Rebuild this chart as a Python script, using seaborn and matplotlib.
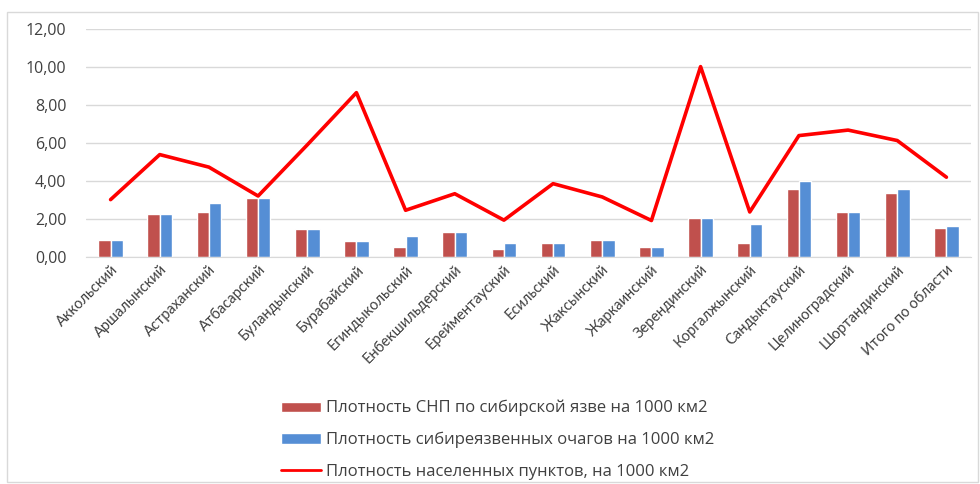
import numpy as np
import pandas as pd
import matplotlib
matplotlib.use("Agg")
import matplotlib.pyplot as plt
import seaborn as sns
from matplotlib.patches import Patch, Rectangle
from matplotlib.lines import Line2D
from matplotlib.ticker import FuncFormatter

# data
districts = ["Аккольский", "Аршалынский", "Астраханский", "Атбасарский", "Буландынский",
             "Бурабайский", "Егиндыкольский", "Енбекшильдерский", "Ерейментауский", "Есильский",
             "Жаксынский", "Жаркаинский", "Зерендинский", "Коргалжынский", "Сандыктауский",
             "Целиноградский", "Шортандинский", "Итого по области"]
snp_density = [0.89, 2.25, 2.36, 3.13, 1.50, 0.84, 0.52, 1.33, 0.44, 0.73,
               0.91, 0.52, 2.04, 0.73, 3.56, 2.36, 3.37, 1.52]
foci_density = [0.89, 2.25, 2.84, 3.13, 1.50, 0.84, 1.10, 1.33, 0.73, 0.73,
                0.91, 0.52, 2.04, 1.73, 4.01, 2.36, 3.56, 1.62]
settle_density = [3.02, 5.39, 4.73, 3.21, 5.90, 8.65, 2.46, 3.33, 1.94, 3.86,
                  3.16, 1.92, 10.02, 2.37, 6.39, 6.68, 6.13, 4.20]
labels = ["Плотность СНП по сибирской язве на 1000 км2",
          "Плотность сибиреязвенных очагов на 1000 км2",
          "Плотность населенных пунктов, на 1000 км2"]

red = "#C0504D"
blue = "#558ED5"

df = pd.DataFrame({"district": districts * 2,
                   "value": snp_density + foci_density,
                   "series": [labels[0]] * len(districts) + [labels[1]] * len(districts)})

sns.set_style("white")
plt.rcParams["font.family"] = ["Lato", "DejaVu Sans"]

fig = plt.figure(figsize=(9.8, 4.84), dpi=100)
ax = fig.add_axes([86 / 980, 1 - 257 / 484, (971 - 86) / 980, (257 - 29) / 484])

sns.barplot(data=df, x="district", y="value", hue="series", palette=[red, blue],
            width=0.5, ax=ax, legend=False, saturation=1)
sns.pointplot(x=districts, y=settle_density, color="#FF0000", markers="",
              linestyles="-", ax=ax, linewidth=2.6)

ax.set_ylim(0, 12)
ax.set_yticks(np.arange(0, 13, 2))
ax.yaxis.set_major_formatter(FuncFormatter(lambda v, p: f"{v:.2f}".replace(".", ",")))
ax.grid(axis="y", color="#d9d9d9", linewidth=1)
ax.set_axisbelow(True)
for s in ["top", "right", "left"]:
    ax.spines[s].set_visible(False)
ax.spines["bottom"].set_color("#d9d9d9")
ax.set_xlabel("")
ax.set_ylabel("")
ax.tick_params(axis="y", length=0, labelsize=11.5, labelcolor="#404040", pad=14)
ax.tick_params(axis="x", length=0, labelsize=10.5, labelcolor="#404040", pad=4)
plt.setp(ax.get_yticklabels(), family=["Open Sans", "DejaVu Sans"])
plt.setp(ax.get_xticklabels(), rotation=45, ha="right", rotation_mode="anchor")
ax.set_xlim(-0.5, len(districts) - 0.5)

handles = [Patch(facecolor=red), Patch(facecolor=blue), Line2D([], [], color="#FF0000", lw=2)]
leg = fig.legend(handles, labels, loc="upper left", bbox_to_anchor=(266 / 980, 1 - 385 / 484),
                 frameon=False, handlelength=2.4, handleheight=0.55,
                 handletextpad=0.3, labelspacing=0.93, labelcolor="#404040",
                 prop={"family": ["Open Sans", "DejaVu Sans"], "size": 12})

fig.patches.append(Rectangle((7 / 980, 2 / 484), 971 / 980, 470 / 484, transform=fig.transFigure,
                             fill=False, edgecolor="#d9d9d9", linewidth=1))

fig.savefig("out.png", dpi=100)
